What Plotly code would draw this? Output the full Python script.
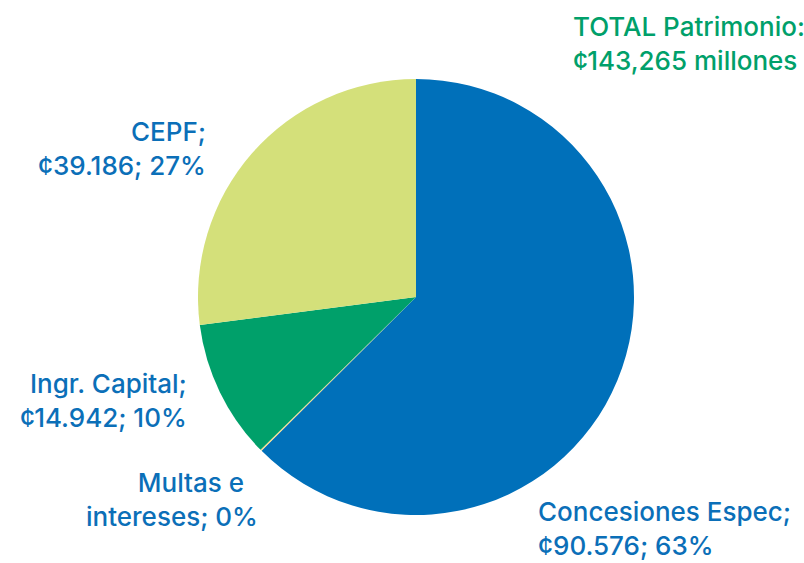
import plotly.graph_objects as go

labels = ["Concesiones Espec", "Multas e intereses", "Ingr. Capital", "CEPF"]
values = [90576, 150, 14942, 39186]
pct_labels = ["63%", "0%", "10%", "27%"]
value_labels = ["¢90.576", None, "¢14.942", "¢39.186"]
colors = ["#0070BA", "#F3D98A", "#00A06A", "#D4E07A"]
total_text = ["TOTAL Patrimonio:", "¢143,265 millones"]

text_blue = "#0B6FB8"
text_green = "#00A06A"
font_family = "Inter, Liberation Sans, Arial, sans-serif"
fs = 26
fw = 500

W, H = 804, 563
fig = go.Figure(go.Pie(
    labels=labels, values=values, sort=False, direction="clockwise", rotation=0,
    marker=dict(colors=colors, line=dict(width=0)),
    textinfo="none", hoverinfo="label+value+percent", showlegend=False,
    domain=dict(x=[(416 - 218) / W, (416 + 218) / W],
                y=[(H - 297 - 218) / H, (H - 297 + 218) / H]),
))

def ann(text, x, y, xanchor, align, color=text_blue):
    fig.add_annotation(text=text, x=x / W, y=1 - y / H, xref="paper", yref="paper",
                       xanchor=xanchor, yanchor="middle", align=align, showarrow=False,
                       font=dict(family=font_family, size=fs, color=color, weight=fw))

ann(f"{labels[3]};<br>{value_labels[3]}; {pct_labels[3]}", 208, 148, "right", "right")
ann(f"{labels[2]};<br>{value_labels[2]}; {pct_labels[2]}", 189, 400, "right", "right")
ann(f"Multas e\u00a0\u00a0<br>intereses; {pct_labels[1]}", 260, 499, "right", "right")
ann(f"{labels[0]};<br>{value_labels[0]}; {pct_labels[0]}", 536, 528, "left", "left")
ann(f"{total_text[0]}<br>{total_text[1]}", 807, 43, "right", "left", color=text_green)

fig.update_layout(width=W, height=H, margin=dict(l=0, r=0, t=0, b=0),
                  paper_bgcolor="white", plot_bgcolor="white")
fig.write_html("out.html", config={"displayModeBar": False},
               post_script="document.body.style.margin='0';document.body.style.overflow='hidden';")
